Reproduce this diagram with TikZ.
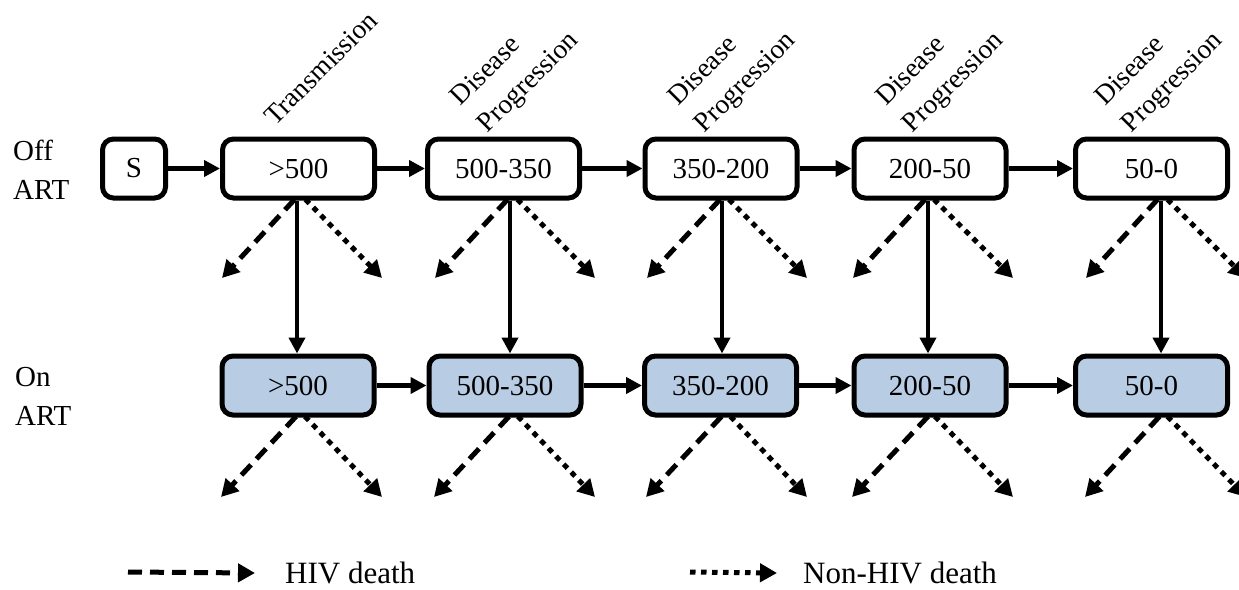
\documentclass[tikz,border=0pt]{standalone}
\usepackage{fontspec}
\setmainfont{Liberation Serif}
\usetikzlibrary{arrows.meta}
\definecolor{artblue}{HTML}{B8CCE4}
\begin{document}
\begin{tikzpicture}[x=1pt,y=-1pt,
  state/.style={draw=black,line width=5pt,rounded corners=11pt,minimum width=152pt,minimum height=59pt,inner sep=0pt,font=\fontsize{29}{34}\selectfont},
  offstate/.style={state,fill=white},
  onstate/.style={state,fill=artblue},
  flow/.style={line width=4.3pt,-{Triangle[length=16pt,width=16pt]}},
  hivd/.style={line width=5pt,dash pattern=on 14pt off 8pt,-{Triangle[length=17pt,width=18pt]}},
  nonhivd/.style={line width=5pt,dash pattern=on 5.5pt off 5.5pt,-{Triangle[length=17pt,width=18pt]}},
  lbl/.style={font=\fontsize{29}{39}\selectfont,align=left},
  rlbl/.style={font=\fontsize{27.5}{38}\selectfont,align=left,rotate=45,inner sep=0pt},
  legtext/.style={font=\fontsize{31}{36}\selectfont,anchor=west,inner sep=0pt}
]
\useasboundingbox (0,0) rectangle (1239,589);

% row labels
\node[lbl,anchor=west,inner sep=0pt] (offl) at (13,170) {Off\\ART};
\node[lbl,anchor=west,inner sep=0pt] (onl) at (15,396) {On\\ART};

% off ART row
\node[offstate,minimum width=63pt] (s) at (134,168.5) {S};
\node[offstate] (o1) at (298.5,168.5) {>500};
\node[offstate] (o2) at (503.5,168.5) {500-350};
\node[offstate] (o3) at (721,168.5) {350-200};
\node[offstate] (o4) at (930,168.5) {200-50};
\node[offstate] (o5) at (1151.5,168.5) {50-0};

% on ART row
\node[onstate] (n1) at (298,385.5) {>500};
\node[onstate] (n2) at (505,385.5) {500-350};
\node[onstate] (n3) at (720.5,385.5) {350-200};
\node[onstate] (n4) at (930,385.5) {200-50};
\node[onstate] (n5) at (1151.5,385.5) {50-0};

% rotated labels
\node[rlbl] (t1) at (321,68) {Transmission};
\node[rlbl] (t2) at (516,70) {Disease\\Progression};
\node[rlbl] (t3) at (733,70) {Disease\\Progression};
\node[rlbl] (t4) at (941,70) {Disease\\Progression};
\node[rlbl] (t5) at (1160,70) {Disease\\Progression};

% horizontal flows
\draw[flow] (s.east) -- (o1.west);
\draw[flow] (o1.east) -- (o2.west);
\draw[flow] (o2.east) -- (o3.west);
\draw[flow] (o3.east) -- (o4.west);
\draw[flow] (o4.east) -- (o5.west);
\draw[flow] (n1.east) -- (n2.west);
\draw[flow] (n2.east) -- (n3.west);
\draw[flow] (n3.east) -- (n4.west);
\draw[flow] (n4.east) -- (n5.west);

% vertical flows (ART initiation)
\draw[flow] ([xshift=-1.5pt]o1.south) -- ([xshift=-1pt]n1.north);
\draw[flow] ([xshift=6.5pt]o2.south) -- ([xshift=5pt]n2.north);
\draw[flow] ([xshift=1pt]o3.south) -- ([xshift=1.5pt]n3.north);
\draw[flow] ([xshift=-2pt]o4.south) -- ([xshift=-2pt]n4.north);
\draw[flow] ([xshift=9.5pt]o5.south) -- ([xshift=9.5pt]n5.north);

% death end points
\foreach \i/\vx in {1/297,2/510,3/722,4/928,5/1161}{
  \coordinate (od\i) at (\vx-75,278);
  \coordinate (on\i) at (\vx+85,278);
  \coordinate (nd\i) at (\vx-76,497);
  \coordinate (nn\i) at (\vx+85,497);
}

% death arrows, off ART
\draw[hivd] ([xshift=-4pt,yshift=1pt]o1.south) -- (od1);
\draw[nonhivd] ([xshift=7pt,yshift=1pt]o1.south) -- (on1);
\draw[hivd] ([xshift=4pt,yshift=1pt]o2.south) -- (od2);
\draw[nonhivd] ([xshift=14pt,yshift=1pt]o2.south) -- (on2);
\draw[hivd] ([xshift=-1pt,yshift=1pt]o3.south) -- (od3);
\draw[nonhivd] ([xshift=8pt,yshift=1pt]o3.south) -- (on3);
\draw[hivd] ([xshift=-5pt,yshift=1pt]o4.south) -- (od4);
\draw[nonhivd] ([xshift=4pt,yshift=1pt]o4.south) -- (on4);
\draw[hivd] ([xshift=6pt,yshift=1pt]o5.south) -- (od5);
\draw[nonhivd] ([xshift=16pt,yshift=1pt]o5.south) -- (on5);

% death arrows, on ART
\draw[hivd] ([xshift=-2pt,yshift=1pt]n1.south) -- (nd1);
\draw[nonhivd] ([xshift=7pt,yshift=1pt]n1.south) -- (nn1);
\draw[hivd] ([xshift=4pt,yshift=1pt]n2.south) -- (nd2);
\draw[nonhivd] ([xshift=13pt,yshift=1pt]n2.south) -- (nn2);
\draw[hivd] ([xshift=1pt,yshift=1pt]n3.south) -- (nd3);
\draw[nonhivd] ([xshift=10pt,yshift=1pt]n3.south) -- (nn3);
\draw[hivd] ([xshift=-2pt,yshift=1pt]n4.south) -- (nd4);
\draw[nonhivd] ([xshift=5pt,yshift=1pt]n4.south) -- (nn4);
\draw[hivd] ([xshift=8pt,yshift=1pt]n5.south) -- (nd5);
\draw[nonhivd] ([xshift=16pt,yshift=1pt]n5.south) -- (nn5);

% legend
\coordinate (l1a) at (128,572);
\node[legtext] (l1t) at (285,573) {HIV death};
\draw[hivd] (l1a) -- ([xshift=-30pt]l1t.west);
\coordinate (l2a) at (690,572);
\node[legtext] (l2t) at (803,573) {Non-HIV death};
\draw[nonhivd] (l2a) -- ([xshift=-26pt]l2t.west);
\end{tikzpicture}
\end{document}
